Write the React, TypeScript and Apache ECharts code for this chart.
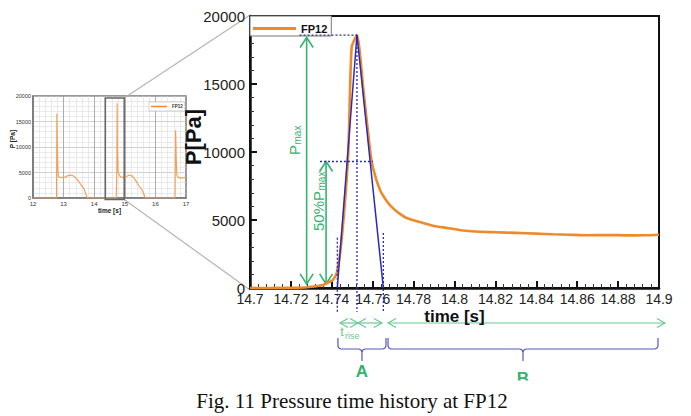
import React, { useEffect, useRef } from "react";
import * as echarts from "echarts";

// ---- main chart (zoomed FP12 pressure history) ----
const mainTime = [14.7, 14.71, 14.72, 14.728, 14.733, 14.7357, 14.7385, 14.7405, 14.7424, 14.7448, 14.748, 14.7497, 14.7523, 14.7555, 14.7587, 14.7602, 14.7636, 14.7668, 14.77, 14.7733, 14.7766, 14.783, 14.79, 14.796, 14.803, 14.81, 14.82, 14.83, 14.84, 14.848, 14.856, 14.865, 14.875, 14.885, 14.893, 14.9];
const mainPressure = [0, 0, 20, 60, 150, 220, 420, 590, 1100, 3530, 9800, 17700, 18600, 14500, 10150, 8800, 7200, 6400, 5850, 5450, 5150, 4850, 4560, 4420, 4250, 4150, 4100, 4050, 4000, 3950, 3920, 3880, 3900, 3870, 3880, 3920];

// ---- inset (full record 12 - 17 s) ----
const insetTime = [12, 12.77, 12.78, 12.8, 12.82, 12.85, 12.95, 13.05, 13.15, 13.25, 13.35, 13.45, 13.52, 13.58, 13.65, 13.7, 13.75, 13.78, 14.72, 14.74, 14.75, 14.76, 14.78, 14.85, 14.95, 15.05, 15.15, 15.25, 15.35, 15.45, 15.55, 15.62, 15.67, 16.64, 16.66, 16.68, 16.7, 16.75, 16.85, 16.95, 17];
const insetPressure = [0, 0, 16500, 9000, 4500, 4100, 4000, 4100, 4400, 4500, 4200, 3600, 3000, 2500, 2000, 1200, 400, 0, 0, 5000, 18600, 9000, 5000, 4200, 4000, 4200, 4500, 4300, 3500, 2500, 1700, 800, 0, 0, 13300, 8000, 4500, 4000, 3900, 4000, 4100];

// ---- annotation values (data coordinates) ----
const pMax = 18600;
const pHalf = 9300;
const triTime = [14.7427, 14.7523, 14.7652];
const triPressure = [0, pMax, 0];
const pMaxGuideTime = [14.7242, 14.7523];
const halfGuideTime = [14.7342, 14.7601];
const dropTimes = [14.7427, 14.7523, 14.7652];
const dropTop = [3700, pMax, 4050];
const dropBottom = [-1850, -1750, -1750];
const pMaxArrow = { t: 14.7277, from: 300, to: 18420 };
const halfArrow = { t: 14.7372, from: 300, to: 9300 };
const timeArrows = [
  [14.744, 14.7528],
  [14.7528, 14.7645],
  [14.7675, 14.9029],
];
const braces = [
  { label: "A", from: 14.743, to: 14.7665 },
  { label: "B", from: 14.7675, to: 14.8995 },
];
const zoomBox = { t0: 14.36, t1: 14.98, p0: -300, p1: 19600 };

const xTickLabels = ["14.7", "14.72", "14.74", "14.76", "14.78", "14.8", "14.82", "14.84", "14.86", "14.88", "14.9"];

const ORANGE = "#EE8A2C";
const BLUE = "#2a2ab8";
const GREEN = "#35B26C";
const LGREEN = "#6CC893";
const FONT = "'Liberation Sans', Arial, sans-serif";

const zip = (a: number[], b: number[]) => a.map((v, i) => [v, b[i]]);

export default function App() {
  const ref = useRef<HTMLDivElement>(null);
  useEffect(() => {
    document.body.style.margin = "0";
    const chart = echarts.init(ref.current!, null, { renderer: "svg" });

    const dotted = (data: number[][], clip = true) => ({
      type: "line",
      xAxisIndex: 0,
      yAxisIndex: 0,
      data,
      symbol: "none",
      clip,
      silent: true,
      lineStyle: { color: BLUE, width: 1.3, type: [2, 2] },
      z: 4,
    });

    const series: any[] = [
      {
        type: "line",
        name: "FP12",
        xAxisIndex: 0,
        yAxisIndex: 0,
        data: zip(mainTime, mainPressure),
        symbol: "none",
        smooth: 0.2,
        lineStyle: { color: ORANGE, width: 2.6 },
        itemStyle: { color: ORANGE },
        z: 3,
      },
      {
        type: "line",
        name: "FP12",
        xAxisIndex: 1,
        yAxisIndex: 1,
        data: zip(insetTime, insetPressure),
        symbol: "none",
        lineStyle: { color: "#F2A258", width: 1.2 },
        itemStyle: { color: "#F2A258" },
        z: 3,
      },
      {
        type: "line",
        name: "rise",
        xAxisIndex: 0,
        yAxisIndex: 0,
        data: zip(triTime, triPressure),
        symbol: "none",
        silent: true,
        lineStyle: { color: BLUE, width: 1.5 },
        z: 5,
      },
      dotted(pMaxGuideTime.map((t) => [t, pMax])),
      dotted(halfGuideTime.map((t) => [t, pHalf])),
      ...dropTimes.map((t, i) => dotted([[t, dropTop[i]], [t, dropBottom[i]]], false)),
    ];

    const plain = (v: number) => String(Math.round(v));

    const option: any = {
      animation: false,
      textStyle: { fontFamily: FONT },
      grid: [
        { left: 250, top: 16, width: 409, height: 272, show: true, borderColor: "#111", borderWidth: 2 },
        { left: 33, top: 96, width: 153, height: 102, show: true, borderColor: "#777", borderWidth: 1.5 },
      ],
      legend: [
        {
          data: ["FP12"],
          left: 250,
          top: 16,
          orient: "horizontal",
          icon: "rect",
          itemWidth: 43,
          itemHeight: 3,
          padding: [7, 4, 2, 3],
          backgroundColor: "#fff",
          borderColor: "#777",
          borderWidth: 1,
          selectedMode: false,
          textStyle: { fontSize: 11, fontWeight: "bold", color: "#111", fontFamily: FONT },
        },
        {
          data: ["FP12"],
          left: 149,
          top: 102,
          icon: "rect",
          itemWidth: 16,
          itemHeight: 1.5,
          padding: [2, 2, 2, 2],
          backgroundColor: "#fff",
          borderColor: "#bbb",
          borderWidth: 0.6,
          selectedMode: false,
          textStyle: { fontSize: 4.5, fontWeight: "bold", color: "#333", fontFamily: FONT },
        },
      ],
      xAxis: [
        {
          gridIndex: 0,
          type: "value",
          min: 14.7,
          max: 14.9,
          interval: 0.02,
          axisLine: { show: true, lineStyle: { color: "#111", width: 2.5 } },
          axisTick: { show: true, inside: true, length: 7, lineStyle: { color: "#111", width: 2 } },
          minorTick: { show: true, splitNumber: 5, length: 4, lineStyle: { color: "#333", width: 1 } },
          splitLine: { show: false },
          axisLabel: {
            fontSize: 14,
            color: "#222",
            margin: 4,
            formatter: (v: number) => {
              const idx = Math.round((v - 14.7) / 0.02);
              return xTickLabels[idx] ?? "";
            },
          },
          name: "time [s]",
          nameLocation: "middle",
          nameGap: 20,
          nameMoveOverlap: false,
          nameTextStyle: { fontSize: 17, fontWeight: "bold", color: "#111" },
        },
        {
          gridIndex: 1,
          type: "value",
          min: 12,
          max: 17,
          interval: 1,
          axisLine: { show: true, lineStyle: { color: "#777", width: 1.5 } },
          axisTick: { show: false },
          minorTick: { show: false, splitNumber: 5 },
          splitLine: { show: true, lineStyle: { color: "#999", width: 0.8 } },
          minorSplitLine: { show: true, lineStyle: { color: "#dcdcdc", width: 0.6 } },
          axisLabel: { fontSize: 6, color: "#333", margin: 3 },
          name: "time [s]",
          nameLocation: "middle",
          nameGap: 9,
          nameMoveOverlap: false,
          nameTextStyle: { fontSize: 6.5, fontWeight: "bold", color: "#222" },
        },
      ],
      yAxis: [
        {
          gridIndex: 0,
          type: "value",
          min: 0,
          max: 20000,
          interval: 5000,
          axisLine: { show: true, lineStyle: { color: "#111", width: 2.5 } },
          axisTick: { show: true, inside: true, length: 7, lineStyle: { color: "#111", width: 2 } },
          minorTick: { show: true, splitNumber: 5, length: 4, lineStyle: { color: "#333", width: 1 } },
          splitLine: { show: false },
          axisLabel: { fontSize: 15, color: "#222", margin: 5, formatter: plain },
        },
        {
          gridIndex: 1,
          type: "value",
          min: 0,
          max: 20000,
          interval: 5000,
          axisLine: { show: true, lineStyle: { color: "#777", width: 1.5 } },
          axisTick: { show: false },
          minorTick: { show: false, splitNumber: 5 },
          splitLine: { show: true, lineStyle: { color: "#bbb", width: 0.7 } },
          minorSplitLine: { show: true, lineStyle: { color: "#dcdcdc", width: 0.6 } },
          axisLabel: { fontSize: 5.5, color: "#333", margin: 2, formatter: plain },
        },
      ],
      series,
    };

    chart.setOption(option);

    const px = (gi: number, x: number, y: number) =>
      chart.convertToPixel({ gridIndex: gi } as any, [x, y]) as number[];

    const g: any[] = [];
    const txt = (x: number, y: number, text: string, size: number, fill: string, extra: any = {}) => ({
      type: "text",
      x,
      y,
      silent: true,
      style: {
        text,
        fontSize: size,
        fill,
        fontFamily: extra.family ?? FONT,
        align: extra.align ?? "center",
        textAlign: extra.align ?? "center",
        verticalAlign: extra.valign ?? "middle",
        textVerticalAlign: extra.valign ?? "middle",
        fontWeight: extra.weight ?? "normal",
      },
    });

    const arrow = (p1: number[], p2: number[], color: string, width: number, head: number, half: number) => {
      const dx = p2[0] - p1[0];
      const dy = p2[1] - p1[1];
      const L = Math.hypot(dx, dy);
      const ux = dx / L;
      const uy = dy / L;
      const nx = -uy;
      const ny = ux;
      const st = { stroke: color, lineWidth: width, fill: null };
      g.push({ type: "line", silent: true, shape: { x1: p1[0], y1: p1[1], x2: p2[0], y2: p2[1] }, style: st });
      g.push({
        type: "polyline",
        silent: true,
        shape: {
          points: [
            [p1[0] + ux * head + nx * half, p1[1] + uy * head + ny * half],
            [p1[0], p1[1]],
            [p1[0] + ux * head - nx * half, p1[1] + uy * head - ny * half],
          ],
        },
        style: st,
      });
      g.push({
        type: "polyline",
        silent: true,
        shape: {
          points: [
            [p2[0] - ux * head + nx * half, p2[1] - uy * head + ny * half],
            [p2[0], p2[1]],
            [p2[0] - ux * head - nx * half, p2[1] - uy * head - ny * half],
          ],
        },
        style: st,
      });
    };

    // y-axis names (rotated)
    const mTL = px(0, 14.7, 20000);
    const mBL = px(0, 14.7, 0);
    const iTL = px(1, 12, 20000);
    const iBL = px(1, 12, 0);
    g.push({
      type: "group",
      x: mTL[0] - 57,
      y: (mTL[1] + mBL[1]) / 2 - 15,
      rotation: Math.PI / 2,
      silent: true,
      children: [txt(0, 0, "P[Pa]", 22, "#111", { weight: "bold" })],
    });
    g.push({
      type: "group",
      x: iTL[0] - 21,
      y: (iTL[1] + iBL[1]) / 2 - 8,
      rotation: Math.PI / 2,
      silent: true,
      children: [txt(0, 0, "P [Pa]", 6.5, "#222", { weight: "bold" })],
    });

    // zoom box in inset and connectors
    const b0 = px(1, zoomBox.t0, zoomBox.p1);
    const b1 = px(1, zoomBox.t1, zoomBox.p0);
    g.push({ type: "line", silent: true, shape: { x1: b1[0], y1: b0[1], x2: mTL[0], y2: mTL[1] - 1 }, style: { stroke: "#b5b5b5", lineWidth: 1.2 } });
    g.push({ type: "line", silent: true, shape: { x1: b1[0], y1: b1[1], x2: mBL[0], y2: mBL[1] + 2 }, style: { stroke: "#b5b5b5", lineWidth: 1.2 } });
    g.push({
      type: "rect",
      silent: true,
      shape: { x: b0[0], y: b0[1], width: b1[0] - b0[0], height: b1[1] - b0[1] },
      style: { stroke: "#666", lineWidth: 1.5, fill: null },
      z: 10,
    });

    // vertical green arrows
    const a1 = px(0, pMaxArrow.t, pMaxArrow.to);
    const a1b = px(0, pMaxArrow.t, pMaxArrow.from);
    arrow(a1b, a1, GREEN, 1.6, 10, 6.5);
    const a2 = px(0, halfArrow.t, halfArrow.to);
    const a2b = px(0, halfArrow.t, halfArrow.from);
    arrow(a2b, a2, GREEN, 1.6, 10, 6.5);

    // rotated labels
    g.push({
      type: "group",
      x: a1[0] - 12,
      y: 155,
      rotation: Math.PI / 2,
      silent: true,
      children: [
        txt(0, 0, "P", 15, GREEN, { align: "left" }),
        txt(10.5, 3, "max", 10, GREEN, { align: "left" }),
      ],
    });
    g.push({
      type: "group",
      x: a2[0] - 8,
      y: 231,
      rotation: Math.PI / 2,
      silent: true,
      children: [
        txt(0, 0, "50%P", 15, GREEN, { align: "left" }),
        txt(40.5, 3, "max", 10, GREEN, { align: "left" }),
      ],
    });

    // time arrows below axis
    const bottom = mBL[1];
    const arrowY = bottom + 35;
    timeArrows.forEach(([t0, t1]) => {
      const x0 = px(0, t0, 0)[0];
      const x1 = px(0, t1, 0)[0];
      arrow([x0, arrowY], [x1, arrowY], LGREEN, 1.2, 8, 4.5);
    });
    const tx = px(0, timeArrows[0][0], 0)[0];
    g.push(txt(tx + 2, bottom + 43, "t", 13, LGREEN));
    g.push(txt(tx + 5, bottom + 48, "rise", 9, LGREEN, { align: "left" }));

    // braces
    braces.forEach((b) => {
      const x0 = px(0, b.from, 0)[0];
      const x1 = px(0, b.to, 0)[0];
      const xc = (x0 + x1) / 2;
      const top = bottom + 50;
      const mid = bottom + 61;
      const stem = bottom + 73;
      g.push({
        type: "polyline",
        silent: true,
        shape: {
          points: [
            [x0, top], [x0, mid - 3], [x0 + 1, mid - 1], [x0 + 3, mid],
            [xc - 3, mid], [xc - 1, mid + 1], [xc, mid + 3], [xc, stem],
          ],
        },
        style: { stroke: "#5656C8", lineWidth: 1.2, fill: null },
      });
      g.push({
        type: "polyline",
        silent: true,
        shape: {
          points: [
            [x1, top], [x1, mid - 3], [x1 - 1, mid - 1], [x1 - 3, mid],
            [xc + 3, mid], [xc + 1, mid + 1], [xc, mid + 3],
          ],
        },
        style: { stroke: "#5656C8", lineWidth: 1.2, fill: null },
      });
      const ly = b.label === "A" ? bottom + 83 : bottom + 90;
      g.push(txt(xc, ly, b.label, 17, GREEN, { weight: "bold" }));
      if (b.label === "B") {
        g.push({ type: "rect", silent: true, shape: { x: xc - 12, y: bottom + 92.5, width: 24, height: 8 }, style: { fill: "#fff" } });
      }
    });

    // caption
    g.push(txt(352, 401, "Fig. 11 Pressure time history at FP12", 21, "#111", { family: "'Liberation Serif', 'Times New Roman', serif" }));

    chart.setOption({ graphic: g });
    return () => chart.dispose();
  }, []);
  return <div ref={ref} style={{ width: 691, height: 416 }} />;
}
